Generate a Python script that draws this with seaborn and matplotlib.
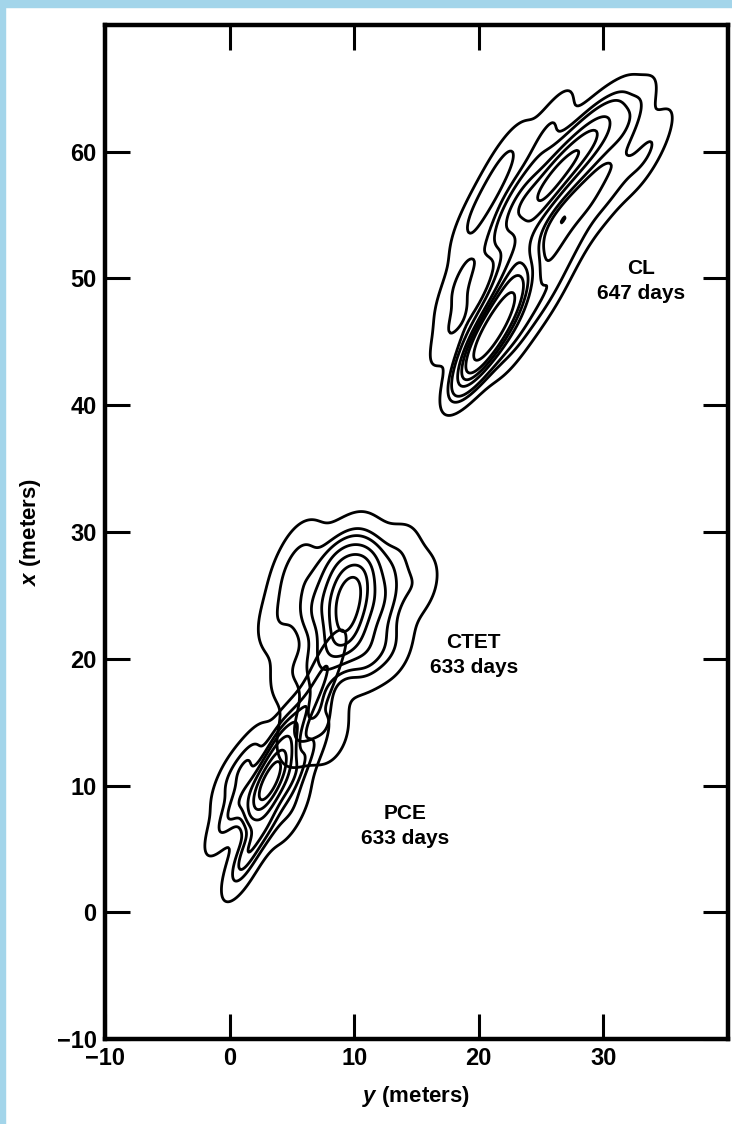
import matplotlib.pyplot as plt
from matplotlib.patches import Rectangle
import pandas as pd
import seaborn as sns

# Plume sample points: y (m), x (m), relative concentration
cl_y = [20.3, 21.2, 22.4, 23.0, 23.1, 25.2, 26.5, 28.2, 30.0, 32.0,
        18.2, 18.6, 19.8, 22.0, 25.5,
        23.0, 25.5, 27.5, 30.5, 33.5]
cl_x = [44.8, 46.0, 47.9, 51.5, 55.6, 56.8, 58.5, 60.1, 61.5, 62.2,
        46.5, 50.0, 55.0, 59.0, 61.5,
        45.5, 49.0, 53.0, 57.0, 60.0]
cl_w = [6, 4, 5, 2.5, 3, 3, 2.5, 3, 2, 1.2,
        1, 1, 1, 1, 1,
        1, 1, 1, 1, 1]

ctet_y = [9.4, 9.3, 9.8, 7.0, 12.0, 8.5, 11.0, 7.5, 11.0,
          5.0, 6.0, 10.0, 13.5, 15.0, 13.0, 4.0, 5.0, 7.0, 5.5, 8.0]
ctet_x = [24.2, 22.0, 25.8, 24.0, 24.5, 27.2, 27.2, 20.0, 20.5,
          26.2, 28.4, 28.8, 28.0, 25.8, 21.0, 23.0, 19.0, 16.5, 14.0, 14.0]
ctet_w = [6, 5, 4, 2.5, 2.5, 2.5, 2, 2, 2,
          1.2, 1, 1, 1, 1, 1, 1, 1, 1.5, 1, 0.8]

pce_y = [3.2, 2.8, 3.8, 1.0, 5.0, 3.0, 4.0, 1.5, 5.0,
         1.5, 1.0, 5.5, 7.0, 8.0, 6.5, -0.5, 0.0]
pce_x = [10.4, 9.5, 11.2, 9.0, 10.5, 7.0, 13.5, 12.0, 8.0,
         5.0, 3.5, 15.0, 17.5, 20.0, 13.0, 7.0, 10.5]
pce_w = [6, 5, 4, 2, 2, 2, 2, 1.5, 1,
         1.5, 1, 1.5, 1, 0.8, 1, 1, 1]

labels = ['CL\n647 days', 'CTET\n633 days', 'PCE\n633 days']
label_y = [33.0, 19.6, 14.1]
label_x = [49.8, 20.3, 6.8]

x_ticks = [-10, 0, 10, 20, 30]
y_ticks = [-10, 0, 10, 20, 30, 40, 50, 60]

sns.set_style('ticks', rc={'axes.edgecolor': 'black', 'xtick.color': 'black',
                           'ytick.color': 'black', 'text.color': 'black',
                           'axes.labelcolor': 'black'})
plt.rcParams['font.family'] = ['Liberation Sans', 'DejaVu Sans']
plt.rcParams['mathtext.fontset'] = 'custom'
plt.rcParams['mathtext.it'] = 'Liberation Sans:italic:bold'

fig = plt.figure(figsize=(7.32, 11.24), dpi=100)
ax = fig.add_axes([0.1434, 0.0756, 0.8511, 0.9022])

plumes = {
    'CL': (cl_y, cl_x, cl_w, 0.56),
    'CTET': (ctet_y, ctet_x, ctet_w, 0.72),
    'PCE': (pce_y, pce_x, pce_w, 0.75),
}
for name, (py, px, pw, bw) in plumes.items():
    df = pd.DataFrame({'y': py, 'x': px, 'w': pw})
    sns.kdeplot(data=df, x='y', y='x', weights='w', levels=8, thresh=0.03,
                bw_adjust=bw, color='black', linewidths=2.0, ax=ax)

for txt, ty, tx in zip(labels, label_y, label_x):
    ax.text(ty, tx, txt, ha='center', va='center', fontsize=15,
            fontweight='bold', linespacing=1.45)

ax.set_xlim(-10, 40)
ax.set_ylim(-10, 70)
ax.set_xticks(x_ticks)
ax.set_yticks(y_ticks)
ax.tick_params(direction='in', length=18, width=2.2, top=True, right=True,
               labeltop=False, labelright=False, labelsize=17, pad=6)
for lab in ax.get_xticklabels() + ax.get_yticklabels():
    lab.set_fontweight('bold')
for sp in ax.spines.values():
    sp.set_linewidth(3.2)
    sp.set_visible(True)

ax.set_xlabel(r'$\mathit{y}$ (meters)', fontsize=16, fontweight='bold', labelpad=10)
ax.set_ylabel(r'$\mathit{x}$ (meters)', fontsize=16, fontweight='bold', labelpad=10)

# scanner border strips
fig.add_artist(Rectangle((0, 0), 0.007, 1, transform=fig.transFigure,
                         color='#a3d5ea', zorder=0))
fig.add_artist(Rectangle((0, 0.9938), 1, 0.0062, transform=fig.transFigure,
                         color='#a3d5ea', zorder=0))

fig.savefig('out.png', dpi=100)
